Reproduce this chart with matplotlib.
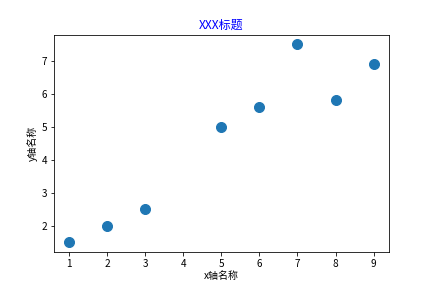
import matplotlib
matplotlib.use("Agg")
import matplotlib.pyplot as plt

plt.rcParams['font.family'] = ['Noto Sans CJK SC', 'DejaVu Sans']
plt.rcParams['axes.unicode_minus'] = False

x = [1, 2, 3, 5, 6, 7, 8, 9]
y = [1.5, 2, 2.5, 5, 5.6, 7.5, 5.8, 6.9]

fig, ax = plt.subplots(figsize=(6, 4), dpi=72)
fig.subplots_adjust(left=0.125, right=0.9, top=0.88, bottom=0.125)
ax.scatter(x, y, s=100)
ax.set_title("XXX标题", color="blue")
ax.set_xlabel("x轴名称", labelpad=2)
ax.set_ylabel("y轴名称")
fig.savefig("out.png", dpi=72)
